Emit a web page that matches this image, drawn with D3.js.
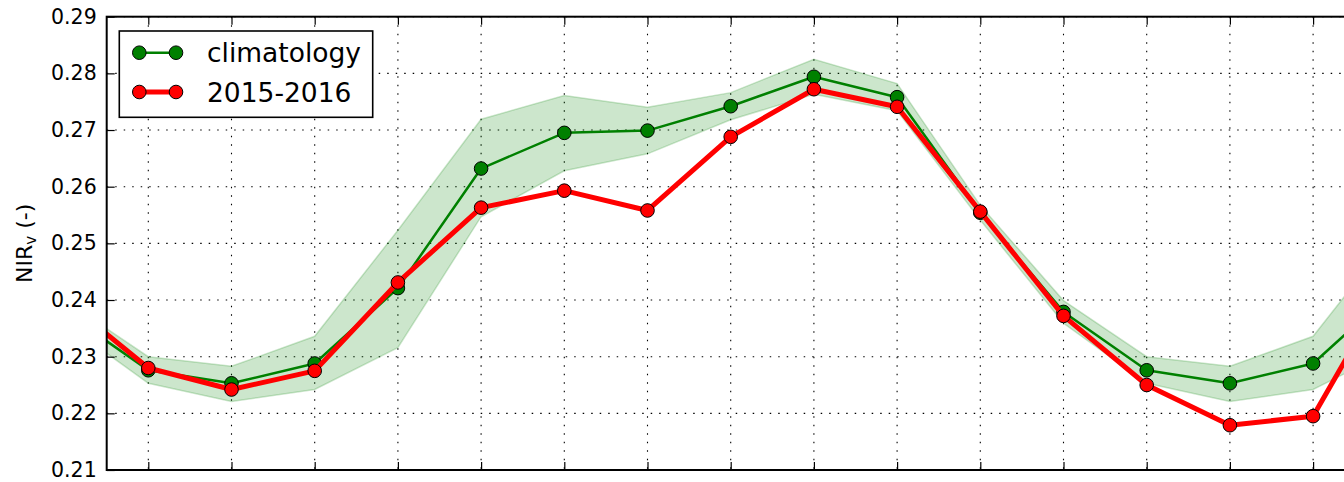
<!DOCTYPE html>
<html>
<head>
<meta charset="utf-8">
<script src="https://cdn.jsdelivr.net/npm/d3@7"></script>
<style>
  html, body { margin: 0; padding: 0; background: #fff; }
  svg { display: block; font-family: "DejaVu Sans", sans-serif; }
</style>
</head>
<body>
<svg id="chart" width="1344" height="482"></svg>
<script>
// Monthly time steps (index 0 = first labelled month; -1 and 15 run past the frame)
const steps = [-1, 0, 1, 2, 3, 4, 5, 6, 7, 8, 9, 10, 11, 12, 13, 14, 15];

// Mean seasonal cycle of NIRv and its spread
const climatology = [0.2379, 0.2276, 0.2253, 0.2288, 0.2421, 0.2632, 0.2695, 0.2699, 0.2742, 0.2794, 0.2758, 0.2554, 0.2379, 0.2276, 0.2253, 0.2288, 0.2421];
const climUpper   = [0.2399, 0.2300, 0.2283, 0.2336, 0.2523, 0.2719, 0.2761, 0.2740, 0.2766, 0.2825, 0.2782, 0.2567, 0.2399, 0.2300, 0.2283, 0.2336, 0.2523];
const climLower   = [0.2359, 0.2253, 0.2221, 0.2242, 0.2316, 0.2547, 0.2628, 0.2658, 0.2718, 0.2763, 0.2734, 0.2541, 0.2359, 0.2253, 0.2221, 0.2242, 0.2316];

// Observed NIRv for 2015-2016
const event1516   = [0.2400, 0.2280, 0.2242, 0.2275, 0.2431, 0.2563, 0.2593, 0.2558, 0.2688, 0.2772, 0.2741, 0.2556, 0.2372, 0.2250, 0.2179, 0.2195, 0.2450];

const xTicks = [0, 1, 2, 3, 4, 5, 6, 7, 8, 9, 10, 11, 12, 13, 14];
const yTicks = [0.21, 0.22, 0.23, 0.24, 0.25, 0.26, 0.27, 0.28, 0.29];
const seriesNames = ["climatology", "2015-2016"];

const svg = d3.select("#chart");
const pL = 106.7, pT = 16.7, pB = 470, pR = 1354.7;

const x = d3.scaleLinear().domain([-0.5, 14.5]).range([pL, pR]);
const y = d3.scaleLinear().domain([0.21, 0.29]).range([pB, pT]);

svg.append("defs").append("clipPath").attr("id", "plotClip")
  .append("rect").attr("x", pL).attr("y", pT)
  .attr("width", pR - pL).attr("height", pB - pT);

// Dotted grid
const grid = svg.append("g").attr("clip-path", "url(#plotClip)")
  .attr("stroke", "#000").attr("stroke-width", 1.1).attr("stroke-dasharray", "1.5,7");
grid.selectAll("line.h").data(yTicks).join("line").attr("class", "h")
  .attr("x1", pL).attr("x2", pR)
  .attr("y1", d => y(d)).attr("y2", d => y(d));
grid.selectAll("line.v").data(xTicks).join("line").attr("class", "v")
  .attr("x1", d => x(d)).attr("x2", d => x(d))
  .attr("y1", pT).attr("y2", pB);

const plot = svg.append("g").attr("clip-path", "url(#plotClip)");
const rows = steps.map((s, i) => ({ s, c: climatology[i], u: climUpper[i], l: climLower[i], r: event1516[i] }));

// Spread band
plot.append("path").datum(rows)
  .attr("d", d3.area().x(d => x(d.s)).y0(d => y(d.l)).y1(d => y(d.u)))
  .attr("fill", "rgba(0,128,0,0.2)")
  .attr("stroke", "rgba(0,128,0,0.2)").attr("stroke-width", 1.5);

// Climatology
plot.append("path").datum(rows)
  .attr("d", d3.line().x(d => x(d.s)).y(d => y(d.c)))
  .attr("fill", "none").attr("stroke", "#008000").attr("stroke-width", 2.5)
  .attr("stroke-linejoin", "round");
plot.selectAll("circle.clim").data(rows).join("circle").attr("class", "clim")
  .attr("cx", d => x(d.s)).attr("cy", d => y(d.c)).attr("r", 6.8)
  .attr("fill", "#008000").attr("stroke", "#000").attr("stroke-width", 1);

// 2015-2016
plot.append("path").datum(rows)
  .attr("d", d3.line().x(d => x(d.s)).y(d => y(d.r)))
  .attr("fill", "none").attr("stroke", "#ff0000").attr("stroke-width", 5)
  .attr("stroke-linejoin", "round");
plot.selectAll("circle.obs").data(rows).join("circle").attr("class", "obs")
  .attr("cx", d => x(d.s)).attr("cy", d => y(d.r)).attr("r", 6.8)
  .attr("fill", "#ff0000").attr("stroke", "#000").attr("stroke-width", 1);

// Axes with inward ticks
const fmt = d3.format(".2f");
const yAxis = svg.append("g").attr("transform", `translate(${pL},0)`)
  .call(d3.axisLeft(y).tickValues(yTicks).tickFormat(fmt).tickSizeInner(-8).tickSizeOuter(0).tickPadding(10));
const xAxisB = svg.append("g").attr("transform", `translate(0,${pB})`)
  .call(d3.axisBottom(x).tickValues(xTicks).tickFormat("").tickSizeInner(-8).tickSizeOuter(0));
const xAxisT = svg.append("g").attr("transform", `translate(0,${pT})`)
  .call(d3.axisTop(x).tickValues(xTicks).tickFormat("").tickSizeInner(-8).tickSizeOuter(0));
[yAxis, xAxisB, xAxisT].forEach(g => {
  g.select(".domain").remove();
  g.selectAll(".tick line").attr("stroke", "#000").attr("stroke-width", 1.2);
});
yAxis.selectAll("text").attr("font-size", 20.5).attr("fill", "#000")
  .attr("font-family", "DejaVu Sans, sans-serif");

// Frame
svg.append("rect").attr("x", pL).attr("y", pT)
  .attr("width", pR - pL).attr("height", pB - pT)
  .attr("fill", "none").attr("stroke", "#000").attr("stroke-width", 2);

// Y label
const yl = svg.append("text")
  .attr("transform", `translate(32,${(pT + pB) / 2}) rotate(-90)`)
  .attr("text-anchor", "middle").attr("font-size", 22).attr("fill", "#000");
yl.append("tspan").text("NIR");
yl.append("tspan").attr("font-size", 15).attr("dy", 4).text("v");
yl.append("tspan").attr("dy", -4).text(" (-)");

// Legend
const lg = svg.append("g");
lg.append("rect").attr("x", 119.3).attr("y", 31).attr("width", 253.4).attr("height", 86.3)
  .attr("fill", "#fff").attr("stroke", "#000").attr("stroke-width", 1.6);
const legendItems = [
  { name: seriesNames[0], color: "#008000", w: 2.5, yy: 52.7 },
  { name: seriesNames[1], color: "#ff0000", w: 5, yy: 92 }
];
legendItems.forEach(it => {
  lg.append("line").attr("x1", 139.3).attr("x2", 176).attr("y1", it.yy).attr("y2", it.yy)
    .attr("stroke", it.color).attr("stroke-width", it.w);
  [139.3, 176].forEach(cx => lg.append("circle").attr("cx", cx).attr("cy", it.yy).attr("r", 6.8)
    .attr("fill", it.color).attr("stroke", "#000").attr("stroke-width", 1));
  lg.append("text").attr("x", 207).attr("y", it.yy).attr("dy", "0.36em")
    .attr("font-size", 26.5).attr("fill", "#000").text(it.name);
});
</script>
</body>
</html>
